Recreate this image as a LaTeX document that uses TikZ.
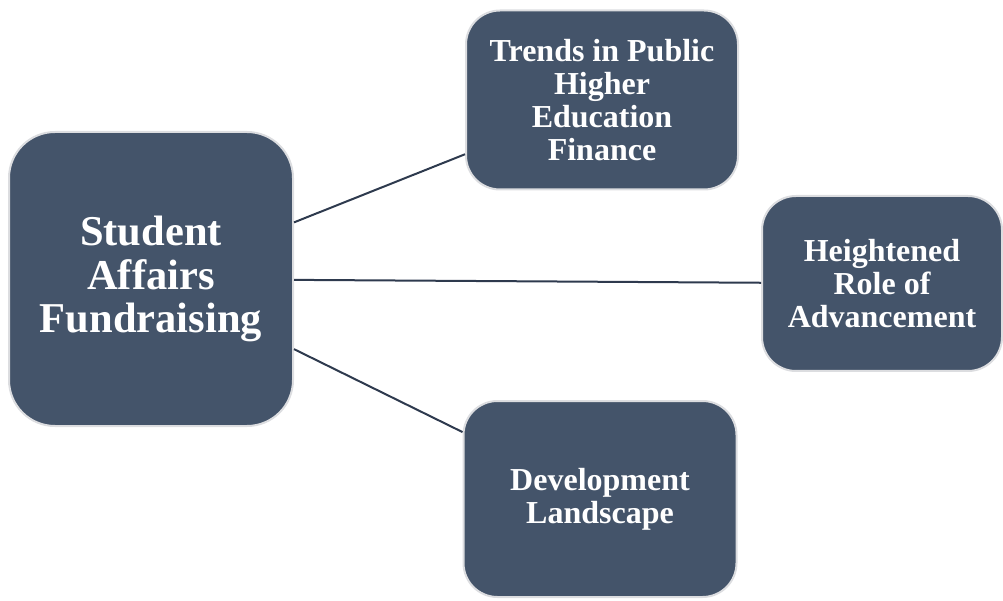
\documentclass[tikz,border=0pt]{standalone}
\usepackage{fontspec}
\setmainfont{Liberation Serif}
\definecolor{boxFill}{HTML}{44546A}
\definecolor{boxEdge}{HTML}{DCDDE0}
\definecolor{linkLine}{HTML}{2E3A4E}
\tikzstyle{topicNode}=[draw=boxEdge, line width=2pt, fill=boxFill, rounded corners=34pt, text=white, align=center, inner sep=0pt, font=\bfseries\fontsize{32}{33}\selectfont]
\tikzstyle{mainNode}=[topicNode, rounded corners=46pt, font=\bfseries\fontsize{42.5}{43.5}\selectfont]
\tikzstyle{topicLink}=[draw=linkLine, line width=2pt]

\begin{document}
\begin{tikzpicture}[x=1pt, y=1pt]
	\useasboundingbox (0, 0) rectangle (1003, 600);

	\node[mainNode, minimum width=284pt, minimum height=294pt] (sa) at (151, 321) {Student\\Affairs\\Fundraising};

	\node[topicNode, minimum width=272pt, minimum height=179pt] (finance) at (602, 500) {Trends in Public\\Higher\\Education\\Finance};
	\node[topicNode, minimum width=240pt, minimum height=175pt] (advance) at (882, 316.5) {Heightened\\Role of\\Advancement};
	\node[topicNode, minimum width=273pt, minimum height=196pt] (develop) at (600, 101) {Development\\Landscape};

	\draw[topicLink] (sa) -- (finance);
	\draw[topicLink] (sa) -- (advance);
	\draw[topicLink] (sa) -- (develop);
\end{tikzpicture}
\end{document}
